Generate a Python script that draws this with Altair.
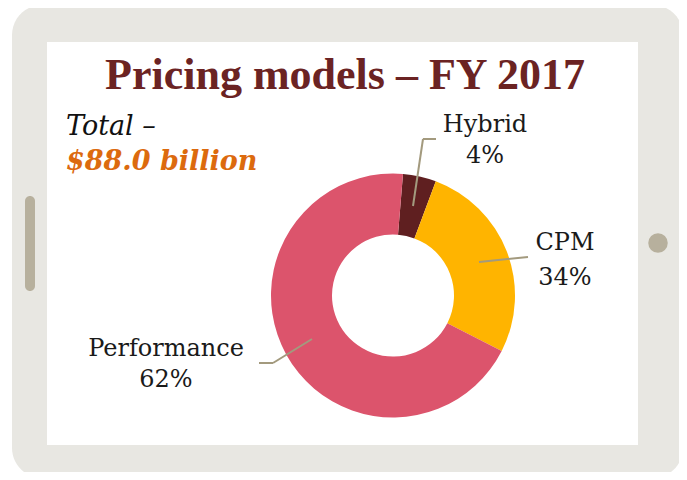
import math
import altair as alt
import pandas as pd

# ---- data ----
models = ["Hybrid", "CPM", "Performance"]
shares = [4.4, 26.8, 68.8]          # slice sizes as drawn
pct_labels = ["4%", "34%", "62%"]   # printed labels
colors = ["#5F1F20", "#FFB400", "#DC546C"]
title_text = "Pricing models – FY 2017"
total_label = "Total –"
total_value = "$88.0 billion"

df = pd.DataFrame({"model": models, "share": shares, "idx": list(range(len(models)))})

W, H = 671, 464
OFF = 8  # page margin
def px(v):
    return v - OFF

base = alt.Chart(pd.DataFrame({"k": [0]}))
FRAME = "#E8E7E2"
BTN = "#B7B09D"
LEAD = "#A39A7E"

frame = base.mark_rect(color=FRAME, cornerRadius=30).encode(
    x=alt.value(px(12)), x2=alt.value(px(683)), y=alt.value(px(5)), y2=alt.value(px(478)))
screen = base.mark_rect(color="white").encode(
    x=alt.value(px(47)), x2=alt.value(px(638)), y=alt.value(px(42)), y2=alt.value(px(445)))
left_btn = base.mark_rect(color=BTN, cornerRadius=5).encode(
    x=alt.value(px(25)), x2=alt.value(px(35)), y=alt.value(px(196)), y2=alt.value(px(291)))
right_btn = base.mark_point(filled=True, size=380, color=BTN, opacity=1).encode(
    x=alt.value(px(658)), y=alt.value(px(243)))

start = math.radians(4.7)
donut = alt.Chart(df).mark_arc(innerRadius=61, outerRadius=122).encode(
    theta=alt.Theta("share:Q", stack=True, scale=alt.Scale(range=[start, start + 2 * math.pi])),
    color=alt.Color("model:N", scale=alt.Scale(domain=models, range=colors), legend=None),
    order=alt.Order("idx:Q"),
    x=alt.value(px(393)), y=alt.value(px(295.5)),
)

def seg(x1, y1, x2, y2):
    return base.mark_rule(color=LEAD, strokeWidth=2).encode(
        x=alt.value(px(x1)), y=alt.value(px(y1)), x2=alt.value(px(x2)), y2=alt.value(px(y2)))

leaders = [
    seg(413, 206, 423, 139), seg(423, 139, 436, 139),
    seg(479, 262, 528, 257),
    seg(312, 339, 273, 363), seg(273, 363, 259, 363),
]

LABEL_FONT = "DejaVu Serif"
def txt(s, x, y, size=24, color="#1A1A1A", font=LABEL_FONT, weight="normal", style="normal", align="center"):
    return base.mark_text(text=s, font=font, fontSize=size, color=color, fontWeight=weight,
                          fontStyle=style, align=align, baseline="alphabetic").encode(
        x=alt.value(px(x)), y=alt.value(px(y)))

label_pos = {"Hybrid": (485, 132, 163), "CPM": (565, 250, 285), "Performance": (166, 356, 387)}
labels = []
for m, p in zip(models, pct_labels):
    cx, y1, y2 = label_pos[m]
    labels.append(txt(m, cx, y1))
    labels.append(txt(p, cx, y2))

title = txt(title_text, 345, 89, size=44, color="#6B2323", font="Liberation Serif", weight="bold")
total1 = txt(total_label, 66, 135, size=27, style="italic", align="left", color="#111111")
total2 = txt(total_value, 66, 170, size=27, style="italic", weight="bold", align="left", color="#DC6A0E")

chart = alt.layer(frame, screen, left_btn, right_btn, donut, *leaders, *labels, title, total1, total2).properties(
    width=W, height=H, padding=0, autosize=alt.AutoSizeParams(type="none"), background="white"
).configure_view(stroke=None)

chart.save("out.html", embed_options={"renderer": "svg", "actions": False})
